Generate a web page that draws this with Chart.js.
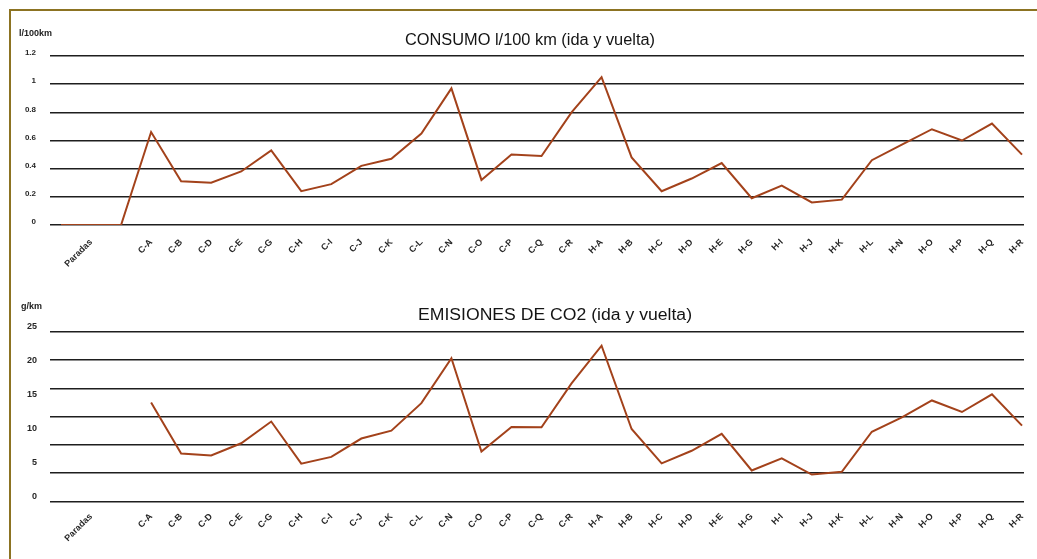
<!DOCTYPE html>
<html><head><meta charset="utf-8">
<script src="https://cdn.jsdelivr.net/npm/chart.js@4/dist/chart.umd.min.js"></script>
<style>
html,body{margin:0;padding:0;background:#fff;width:1037px;height:559px;overflow:hidden}
#frame{position:absolute;left:9px;top:9px;width:1100px;height:600px;border-top:2px solid #8c7322;border-left:2px solid #8c7322;box-sizing:border-box}
#c1{position:absolute;left:0;top:0}
#c2{position:absolute;left:0;top:280px}
</style></head><body>
<div id="frame"></div>
<canvas id="c1" width="1037" height="280"></canvas>
<canvas id="c2" width="1037" height="279"></canvas>
<script>
const categories = ["", "Paradas", "", "C-A","C-B","C-D","C-E","C-G","C-H","C-I","C-J","C-K","C-L","C-N","C-O","C-P","C-Q","C-R","H-A","H-B","H-C","H-D","H-E","H-G","H-I","H-J","H-K","H-L","H-N","H-O","H-P","H-Q","H-R"];
const consumo = [0,0,0, 0.66,0.31,0.30,0.38,0.53,0.24,0.29,0.42,0.47,0.65,0.97,0.32,0.50,0.49,0.80, 1.05,0.48,0.24,0.33,0.44,0.19,0.28,0.16,0.18,0.46,0.57,0.68,0.60,0.72,0.50];
const emisiones = [null,null,null, 13.9,6.4,6.1,7.9,11.1,4.9,5.9,8.6,9.75,13.8,20.4,6.7,10.3,10.25,16.7, 22.25,10.0,4.95,6.8,9.3,3.9,5.7,3.3,3.7,9.6,11.7,14.2,12.5,15.1,10.5];
const consumoTicks = [0,0.2,0.4,0.6,0.8,1,1.2];
const emisionesTicks = [0,5,10,15,20,25];
const gridSteps = [0,1,2,3,4,5,6];

const title1 = "CONSUMO l/100 km (ida y vuelta)";
const title2 = "EMISIONES DE CO2 (ida y vuelta)";
const unit1 = "l/100km";
const unit2 = "g/km";

const LINE = '#a3421b';
const GRID = '#1e1e1e';
const TICKC = '#262626';
const FAM = '"Liberation Sans", Arial, sans-serif';

function textPlugin(t){
  return {id:'txt'+t.title.length, afterDraw(chart){
    const c = chart.ctx; c.save();
    c.fillStyle = '#141414';
    c.font = '16px ' + FAM;
    c.textBaseline = 'middle';
    c.textAlign = 'center';
    const w = c.measureText(t.title).width;
    c.translate(t.tx, t.ty);
    c.scale(t.tw / w, 1);
    c.fillText(t.title, 0, 0);
    c.restore(); c.save();
    c.fillStyle = '#222';
    c.font = 'bold 9px ' + FAM;
    c.textBaseline = 'middle';
    c.textAlign = 'left';
    c.fillText(t.unit, t.ux, t.uy);
    c.restore();
  }};
}

function xAxis(h, pad){
  return {
    type:'linear', min:-11/30, max:32+2/30,
    grid:{display:false}, border:{display:false},
    afterBuildTicks: s => { s.ticks = categories.map((_, i) => ({value:i})); },
    afterFit: s => { s.height = h; },
    ticks:{autoSkip:false, minRotation:45, maxRotation:45, padding:pad, color:TICKC,
      font:{family:FAM, size:9, weight:'bold'},
      callback: v => categories[v] ?? ''}
  };
}

new Chart(document.getElementById('c1'), {
  type:'line',
  data:{datasets:[{data: consumo.map((v,i)=>({x:i,y:v})), borderColor:LINE, borderWidth:2, pointRadius:0, tension:0, fill:false}]},
  options:{
    responsive:false, animation:false, devicePixelRatio:1,
    layout:{padding:{top:56, right:13, left:0, bottom:0}},
    plugins:{legend:{display:false}, tooltip:{enabled:false}},
    scales:{
      x: xAxis(55, 4),
      y:{min:0, max:1.2,
        afterBuildTicks: s => { s.ticks = consumoTicks.map(v=>({value:v})); },
        afterFit: s => { s.width = 50; },
        grid:{color:GRID, lineWidth:1.6, drawTicks:false},
        border:{display:false},
        ticks:{padding:14, labelOffset:-3, color:TICKC, font:{family:FAM, size:8, weight:'bold'},
          callback: v => String(v)}}
    }
  },
  plugins:[textPlugin({title:title1, tx:530, ty:41, tw:250, unit:unit1, ux:19, uy:34})]
});

new Chart(document.getElementById('c2'), {
  type:'line',
  data:{datasets:[{data: emisiones.map((v,i)=>({x:i,y:v})), borderColor:LINE, borderWidth:2, pointRadius:0, tension:0, fill:false}]},
  options:{
    responsive:false, animation:false, devicePixelRatio:1,
    layout:{padding:{top:47, right:13, left:0, bottom:0}},
    plugins:{legend:{display:false}, tooltip:{enabled:false}},
    scales:{
      x: xAxis(57.7, 2),
      y:{min:-0.63, max:25, position:'left',
        afterBuildTicks: s => { s.ticks = emisionesTicks.map(v=>({value:v})); },
        afterFit: s => { s.width = 50; },
        grid:{display:false, drawTicks:false},
        border:{display:false},
        ticks:{padding:13, color:TICKC, font:{family:FAM, size:9, weight:'bold'},
          callback: v => String(v)}},
      yg:{min:0, max:6.177, position:'right',
        afterBuildTicks: s => { s.ticks = gridSteps.map(v=>({value:v})); },
        afterFit: s => { s.width = 0; },
        grid:{color:GRID, lineWidth:1.6, drawTicks:false},
        border:{display:false},
        ticks:{display:false}}
    }
  },
  plugins:[textPlugin({title:title2, tx:555, ty:36, tw:274, unit:unit2, ux:21, uy:27})]
});
</script>
</body></html>
